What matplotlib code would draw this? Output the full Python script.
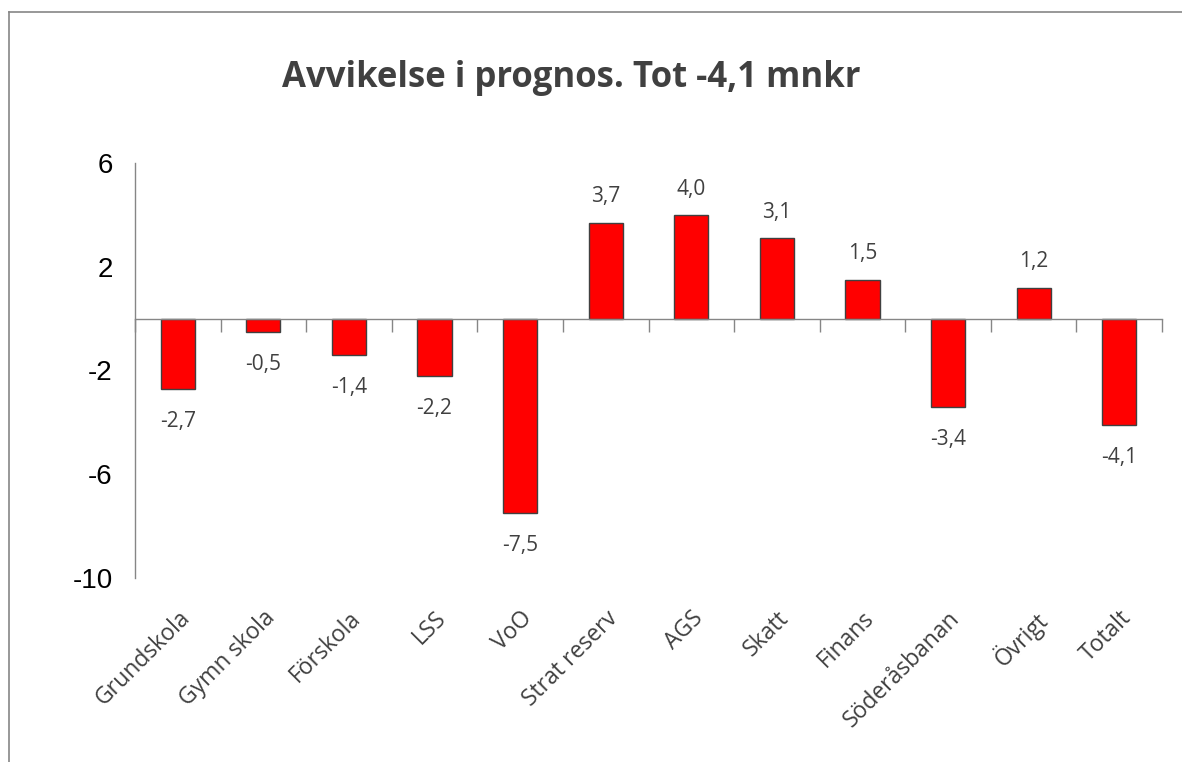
import matplotlib
matplotlib.use("Agg")
import matplotlib.pyplot as plt
import numpy as np
from matplotlib.lines import Line2D

categories = ["Grundskola", "Gymn skola", "Förskola", "LSS", "VoO", "Strat reserv",
              "AGS", "Skatt", "Finans", "Söderåsbanan", "Övrigt", "Totalt"]
values = [-2.7, -0.5, -1.4, -2.2, -7.5, 3.7, 4.0, 3.1, 1.5, -3.4, 1.2, -4.1]
yticks = [-10, -6, -2, 2, 6]
title = "Avvikelse i prognos. Tot -4,1 mnkr"

fig = plt.figure(figsize=(11.82, 7.62), dpi=100)
fig.patch.set_facecolor("white")
ax = fig.add_axes([135/1182, 1-578/762, (1162-135)/1182, (578-163)/762])

x = np.arange(len(categories))
ax.bar(x, values, width=0.4, color="#FF0000", edgecolor="#404040", linewidth=1.0, zorder=3)

ax.set_xlim(-0.5, len(categories)-0.5)
ax.set_ylim(-10, 6)
ax.set_yticks(yticks)
ax.set_yticklabels([str(t) for t in yticks], fontfamily="Liberation Sans", fontsize=20, color="black")
ax.tick_params(axis="y", length=0, pad=16)

for s in ["top", "right"]:
    ax.spines[s].set_visible(False)
ax.spines["left"].set_color("#868686")
ax.spines["left"].set_linewidth(1.0)
ax.spines["bottom"].set_position(("data", 0))
ax.spines["bottom"].set_color("#868686")
ax.spines["bottom"].set_linewidth(1.0)
ax.spines["bottom"].set_zorder(4)

ax.set_xticks(np.arange(-0.5, len(categories), 1.0), minor=True)
ax.set_xticks([])
ax.tick_params(axis="x", which="minor", length=9, width=1.0, color="#868686", direction="out")

# category labels
label_tr = ax.get_xaxis_transform()
for xi, c in zip(x, categories):
    ax.text(xi, -0.068, c, transform=label_tr, rotation=45, rotation_mode="anchor",
            ha="right", va="top", fontsize=16.5, color="#404040", fontfamily="Open Sans")

# data labels
for xi, v in zip(x, values):
    s = f"{v:.1f}".replace(".", ",")
    if v >= 0:
        ax.annotate(s, (xi, v), xytext=(0, 11), textcoords="offset points", ha="center", va="bottom",
                    fontsize=15, color="#404040", fontfamily="Open Sans")
    else:
        ax.annotate(s, (xi, v), xytext=(0, -16), textcoords="offset points", ha="center", va="top",
                    fontsize=15, color="#404040", fontfamily="Open Sans")

fig.text(571/1182, 1-78/762, title, ha="center", va="center", fontsize=25, fontweight="bold",
         color="#404040", fontfamily="Open Sans")

# outer chart border (left and top visible)
fig.add_artist(Line2D([8.5/1182, 8.5/1182], [0, 1-11.5/762], transform=fig.transFigure, color="#868686", lw=1.2))
fig.add_artist(Line2D([8.5/1182, 1], [1-11.5/762, 1-11.5/762], transform=fig.transFigure, color="#868686", lw=1.2))

fig.savefig("out.png", dpi=100)
